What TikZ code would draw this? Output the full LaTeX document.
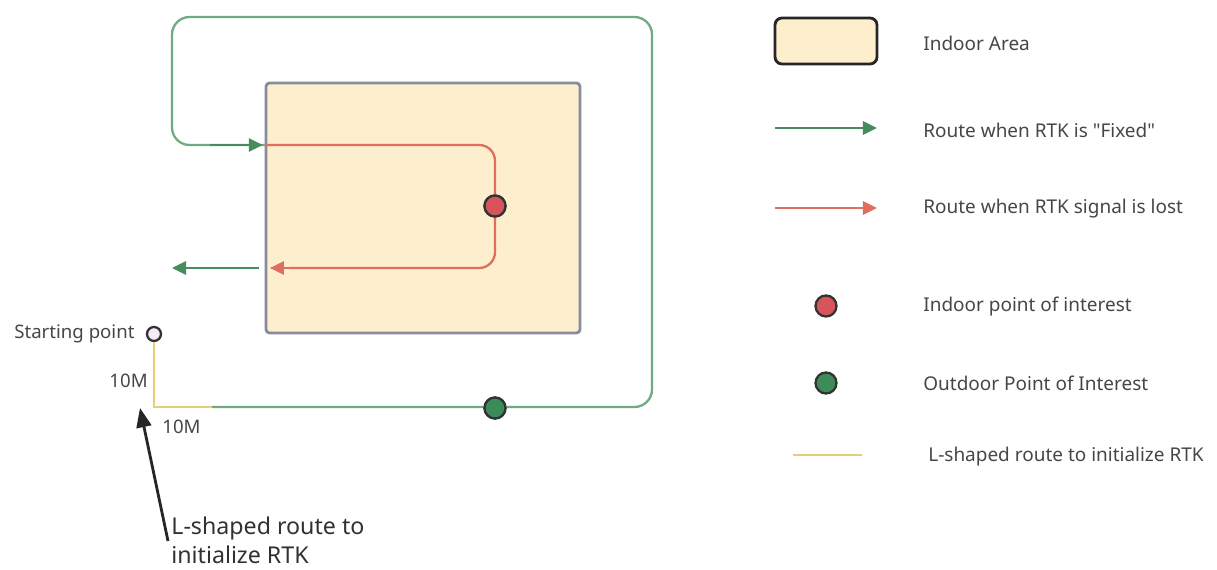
\documentclass[tikz,border=0pt]{standalone}
\usepackage{fontspec}
\setmainfont{Noto Sans}[Ligatures=TeXOff]
\usetikzlibrary{arrows.meta, positioning}
\definecolor{fixedgreen}{RGB}{70,140,95}
\definecolor{routegreen}{RGB}{110,170,130}
\definecolor{lostred}{RGB}{222,110,95}
\definecolor{poired}{RGB}{215,85,90}
\definecolor{poigreen}{RGB}{60,140,90}
\definecolor{initline}{RGB}{230,205,120}
\definecolor{areafill}{RGB}{253,238,205}
\definecolor{areaedge}{RGB}{135,140,158}
\definecolor{labeltext}{RGB}{70,70,70}

\begin{document}
\begin{tikzpicture}[
  x=0.02cm, y=-0.02cm,
  font=\fontsize{10.8}{13}\selectfont,
  area/.style={draw=areaedge, line width=1.6pt, fill=areafill, rounded corners=2pt},
  poi/.style={circle, draw=black!80, line width=1.3pt, minimum size=0.42cm, inner sep=0pt},
  greenroute/.style={draw=routegreen, line width=1.3pt, rounded corners=10pt},
  redroute/.style={draw=lostred, line width=1.3pt, rounded corners=9pt},
  garr/.style={-{Triangle[length=8pt, width=7.5pt]}, fixedgreen, line width=1.3pt},
  rarr/.style={-{Triangle[length=8pt, width=7.5pt]}, lostred, line width=1.3pt},
  initroute/.style={draw=initline, line width=1.3pt},
  legtext/.style={anchor=west, text=labeltext, inner sep=0pt},
  smalltext/.style={text=labeltext, inner sep=0pt, font=\fontsize{10.6}{12}\selectfont},
]
\useasboundingbox (0,0) rectangle (1217,570);

% --- Indoor area ---
\node[area, minimum width=314*0.02cm, minimum height=250*0.02cm] (indoor) at (423,208) {};

% --- Points ---
\node[poi, fill=poired] (ipoi) at (495,206) {};
\node[poi, fill=poigreen] (opoi) at (495,408) {};
\node[circle, draw=black!80, line width=1.3pt, fill=violet!8, minimum size=0.28cm, inner sep=0pt] (start) at (154,334) {};
\node[smalltext, anchor=east] (startlbl) at ([xshift=-0.22cm]start.west) {Starting point};

% --- L-shaped init route ---
\coordinate (lcorner) at (154,407);
\coordinate (lend) at (212,407);
\draw[initroute] (start.south) -- (lcorner) -- (lend);
\node[smalltext, anchor=east] (tenv) at (148,381) {10M};
\node[smalltext, anchor=west] (tenh) at (162,427) {10M};

% --- Fixed route (outdoor loop) ---
\coordinate (gbr) at (652,407);
\coordinate (gtr) at (652,17);
\coordinate (gtl) at (172,17);
\coordinate (gml) at (172,145);
\draw[greenroute] (lend) -- (gbr) -- (gtr) -- (gtl) -- (gml) -- (indoor.west |- gml);
\draw[garr] ([xshift=-1.1cm]indoor.west |- gml) -- ([xshift=-1pt]indoor.west |- gml);
\node[poi, fill=poigreen] at (opoi) {};

% --- Lost route (inside) ---
\coordinate (rtr) at (495,145);
\coordinate (rbr) at (495,268);
\coordinate (rend) at ([xshift=3pt]indoor.west |- rbr);
\draw[redroute] (indoor.west |- gml) -- (rtr) -- (rbr) -- ([xshift=0.4cm]rend);
\draw[rarr] ([xshift=0.5cm]rend) -- (rend);
\node[poi, fill=poired] at (ipoi) {};

% --- Exit ---
\coordinate (gexit) at (172,268);
\draw[garr] ([xshift=-3pt]indoor.west |- rbr) -- (gexit);

% --- Annotation ---
\node[anchor=north west, align=left, text=labeltext!70!black, inner sep=0pt, font=\fontsize{13.2}{16.5}\selectfont] (note) at (171,517) {L-shaped route to\\initialize RTK};
\coordinate (notetail) at (168,541);
\draw[-{Triangle[length=11pt, width=8.5pt]}, line width=1.6pt, black!85] (notetail) -- (140,408);

% --- Legend ---
\node[draw=black!85, line width=1.6pt, fill=areafill, rounded corners=4pt, minimum width=102*0.02cm, minimum height=46*0.02cm] (legarea) at (826,41) {};
\coordinate (leggs) at (775,128);
\coordinate (legge) at (877,128);
\draw[garr] (leggs) -- (legge);
\coordinate (legrs) at (775,208);
\coordinate (legre) at (877,208);
\draw[rarr] (legrs) -- (legre);
\node[poi, fill=poired] (legipoi) at (826,306) {};
\node[poi, fill=poigreen] (legopoi) at (826,383) {};
\coordinate (legls) at (793,455);
\coordinate (legle) at (862,455);
\draw[initroute] (legls) -- (legle);

\node[legtext] at (923,43) {Indoor Area};
\node[legtext] at (923,130) {Route when RTK is "Fixed"};
\node[legtext] at (923,209) {Route when RTK signal is lost};
\node[legtext] at (923,307) {Indoor point of interest};
\node[legtext] at (923,383) {Outdoor Point of Interest};
\node[legtext] at (928,457) {L-shaped route to initialize RTK};

\end{tikzpicture}
\end{document}
